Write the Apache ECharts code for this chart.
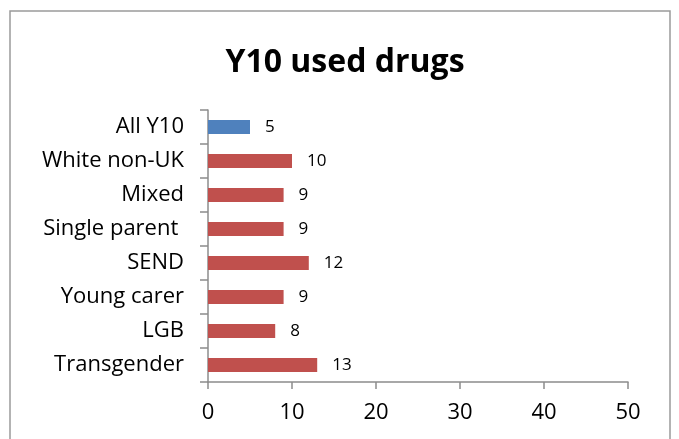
<!DOCTYPE html>
<html>
<head>
<meta charset="utf-8">
<script src="https://cdn.jsdelivr.net/npm/echarts@6/dist/echarts.min.js"></script>
<style>
  html, body { margin: 0; padding: 0; background: #fff; }
  #chart { width: 679px; height: 439px; }
</style>
</head>
<body>
<div id="chart"></div>
<script>
// 数据
const categories = ['All Y10', 'White non-UK', 'Mixed', 'Single parent ', 'SEND', 'Young carer', 'LGB', 'Transgender'];
const values = [5, 10, 9, 9, 12, 9, 8, 13];
const highlight = ['All Y10'];
const xTicks = [0, 10, 20, 30, 40, 50];

const font = 'Open Sans, Lato, sans-serif';

let myChart = echarts.init(document.getElementById('chart'));
const option = {
  backgroundColor: '#fff',
  animation: false,
  title: {
    text: 'Y10 used drugs',
    left: 340,
    textAlign: 'center',
    top: 42,
    textStyle: { fontFamily: font, fontSize: 32, fontWeight: 'bold', color: '#000' }
  },
  graphic: [{
    type: 'rect',
    shape: { x: 10, y: 11, width: 660, height: 460 },
    style: { fill: 'none', stroke: '#9a9a9a', lineWidth: 1.5 },
    silent: true
  }],
  grid: { left: 208, right: 51, top: 110, bottom: 57, containLabel: false },
  xAxis: {
    type: 'value',
    min: xTicks[0],
    max: xTicks[xTicks.length - 1],
    interval: 10,
    splitLine: { show: false },
    axisLine: { show: true, lineStyle: { color: '#8c8c8c', width: 1.5 } },
    axisTick: { show: true, length: 7, lineStyle: { color: '#8c8c8c', width: 1.5 } },
    axisLabel: { fontFamily: font, fontSize: 22, color: '#000', margin: 20 }
  },
  yAxis: {
    type: 'category',
    data: categories,
    inverse: true,
    axisLine: { show: true, lineStyle: { color: '#8c8c8c', width: 1.5 } },
    axisTick: { show: true, length: 8, lineStyle: { color: '#8c8c8c', width: 1.5 } },
    axisLabel: { fontFamily: font, fontSize: 22, color: '#000', margin: 24 }
  },
  series: [{
    type: 'bar',
    barWidth: 14,
    data: values.map((v, i) => ({
      value: v,
      itemStyle: { color: highlight.includes(categories[i]) ? '#4F81BD' : '#C0504D' }
    })),
    label: {
      show: true,
      position: 'right',
      distance: 15,
      fontFamily: font,
      fontSize: 17,
      color: '#000'
    }
  }]
};
myChart.setOption(option);
</script>
</body>
</html>
